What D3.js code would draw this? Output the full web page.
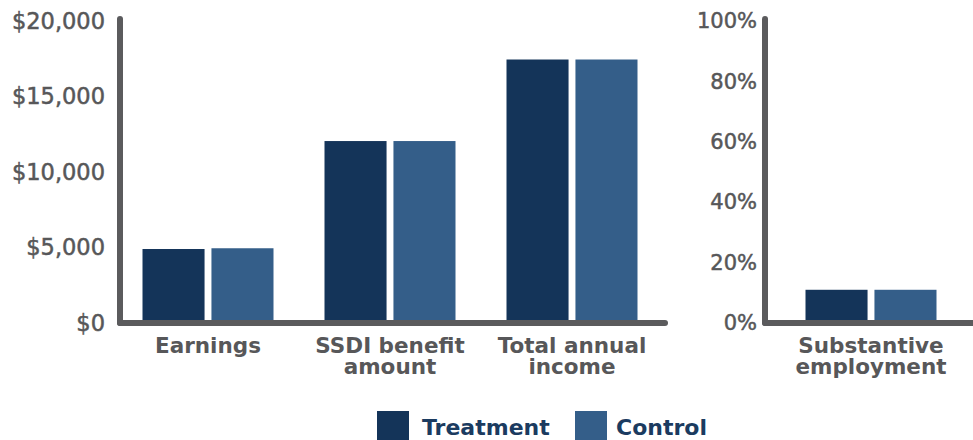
<!DOCTYPE html>
<html><head><meta charset="utf-8">
<script src="https://cdn.jsdelivr.net/npm/d3@7"></script>
<style>
html,body{margin:0;padding:0;background:#fff;}
svg{display:block;}
text{font-family:"DejaVu Sans",sans-serif;}
</style></head>
<body>
<svg id="chart" width="973" height="440"></svg>
<script>
const series = ["Treatment", "Control"];
const colors = ["#143459", "#345e89"];
const dollarCategories = ["Earnings", "SSDI benefit\namount", "Total annual\nincome"];
const dollarTreatment = [4900, 12050, 17450];
const dollarControl = [4950, 12050, 17450];
const dollarTicks = [0, 5000, 10000, 15000, 20000];
const pctCategories = ["Substantive\nemployment"];
const pctTreatment = [11];
const pctControl = [11];
const pctTicks = [0, 20, 40, 60, 80, 100];

const svg = d3.select("#chart");
const axisColor = "#5b5b5d";
const labelColor = "#575759";

function panel(opts) {
  const g = svg.append("g");
  const y = d3.scaleLinear().domain(opts.domain).range([323, 21]);
  const x0 = d3.scaleBand().domain(opts.categories).range(opts.xrange).padding(0);
  const x1 = d3.scaleBand().domain(series).range([x0.bandwidth()/2 - 65.5, x0.bandwidth()/2 + 65.5]).paddingInner(0.1).paddingOuter(0);
  const color = d3.scaleOrdinal().domain(series).range(colors);

  // tick labels
  const ax = d3.axisLeft(y).tickValues(opts.ticks).tickFormat(opts.fmt).tickSize(0).tickPadding(0);
  const axg = g.append("g").attr("transform", `translate(${opts.labelX},0)`).call(ax);
  axg.select(".domain").remove();
  axg.selectAll("text").attr("fill", labelColor)
    .attr("stroke", labelColor).attr("stroke-width", 0.5)
    .style("font-size", opts.tickSize).style("font-family", "'DejaVu Sans',sans-serif");

  // bars
  const rows = opts.categories.map((c, i) => ({cat: c, vals: [opts.t[i], opts.c[i]]}));
  const grp = g.selectAll("g.cat").data(rows).join("g").attr("class", "cat")
    .attr("transform", d => `translate(${x0(d.cat)},0)`);
  grp.selectAll("rect").data(d => series.map((s, j) => ({s, v: d.vals[j]}))).join("rect")
    .attr("x", d => x1(d.s)).attr("width", x1.bandwidth())
    .attr("y", d => y(d.v)).attr("height", d => y(0) - y(d.v))
    .attr("fill", d => color(d.s));

  // axis lines
  g.append("line").attr("x1", opts.axisX).attr("x2", opts.axisX).attr("y1", 19).attr("y2", y(0))
    .attr("stroke", axisColor).attr("stroke-width", 6).attr("stroke-linecap", "round");
  g.append("line").attr("x1", opts.axisX).attr("x2", opts.baseEnd).attr("y1", y(0)).attr("y2", y(0))
    .attr("stroke", axisColor).attr("stroke-width", 6).attr("stroke-linecap", "round");

  // category labels
  const lab = g.selectAll("text.cl").data(opts.categories).join("text").attr("class", "cl")
    .attr("text-anchor", "middle").attr("fill", labelColor)
    .style("font-size", "21.5px").style("font-weight", "700");
  lab.each(function(d) {
    const lines = d.split("\n");
    const t = d3.select(this);
    lines.forEach((ln, k) => {
      t.append("tspan").attr("x", x0(d) + x0.bandwidth()/2).attr("y", 353 + k * 21).text(ln);
    });
  });
}

panel({
  domain: [0, 20000], ticks: dollarTicks, fmt: v => "$" + d3.format(",")(v),
  categories: dollarCategories, t: dollarTreatment, c: dollarControl,
  xrange: [117, 663], labelX: 105, axisX: 120, baseEnd: 665, tickSize: "22.5px"
});
panel({
  domain: [0, 100], ticks: pctTicks, fmt: v => v + "%",
  categories: pctCategories, t: pctTreatment, c: pctControl,
  xrange: [780, 962], labelX: 757, axisX: 765, baseEnd: 976, tickSize: "21px"
});

// legend
const leg = svg.append("g");
const legX = [377, 575];
const legTextX = [422, 616];
series.forEach((s, i) => {
  leg.append("rect").attr("x", legX[i]).attr("y", 411).attr("width", 32).attr("height", 32).attr("fill", colors[i]);
  leg.append("text").attr("x", legTextX[i]).attr("y", 435).text(s)
    .attr("fill", "#1b3b60").style("font-size", "22px").style("font-weight", "600");
});
</script>
</body></html>
